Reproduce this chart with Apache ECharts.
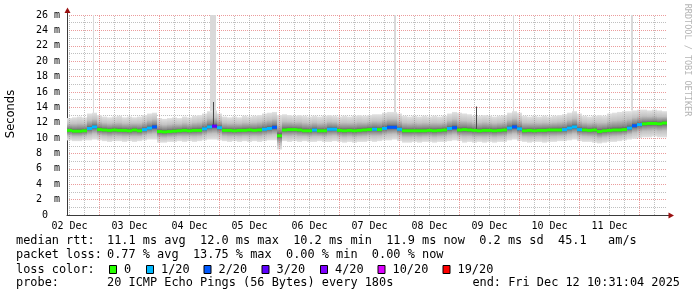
<!DOCTYPE html>
<html><head><meta charset="utf-8">
<script src="https://cdn.jsdelivr.net/npm/echarts@6/dist/echarts.min.js"></script>
<style>html,body{margin:0;padding:0;background:#fff}#c{width:697px;height:297px}</style>
</head><body><div id="c"></div>
<script>
// time axis: hours since 02 Dec 00:00, one sample every 2 hours
const startHour = 12;
const stepHours = 2;

// median RTT (ms)
const median = [
  11.0, 10.9, 10.9, 10.95,
  11.25, 11.45, 11.1,
  11.05, 11.0, 11.05, 11.0, 11.0, 10.95, 11.05, 10.95,
  11.1, 11.3, 11.45,
  10.85, 10.8, 10.85, 10.9, 10.95, 11.0, 10.95, 11.0, 11.0,
  11.2, 11.45, 11.55, 11.35,
  11.0, 11.0, 10.95, 11.0, 11.0, 11.05, 11.0, 11.05,
  11.15, 11.25, 11.4,
  10.3,
  11.05, 11.1, 11.1, 11.05, 10.95, 10.95,
  11.05, 10.95, 10.95, 11.15, 11.15, 11.0, 10.95, 11.0, 10.95, 11.0, 11.05, 11.1, 11.15, 11.1,
  11.25, 11.4, 11.4, 11.15,
  10.95, 10.95, 10.95, 10.95, 10.95, 11.0, 10.95, 11.0, 11.05,
  11.25, 11.35, 11.05,
  11.1, 11.05, 11.0, 10.95, 11.0, 11.0, 10.95, 11.0, 11.05,
  11.3, 11.45, 11.2,
  10.95, 11.0, 10.95, 11.0, 11.0, 11.05, 11.05, 11.05,
  11.1, 11.3, 11.45, 11.1,
  11.05, 11.0, 11.05, 10.85, 10.95, 11.0, 11.05, 11.05, 11.1,
  11.3, 11.6, 11.75,
  11.85, 11.9, 11.9, 11.85, 11.95
];

// lost pings out of 20
const loss = [
  0,0,0,0,
  1,1,0,
  0,0,0,0,0,0,0,0,
  1,1,2,
  0,0,0,0,0,0,0,0,0,
  1,1,3,1,
  0,0,0,0,0,0,0,0,
  1,1,2,
  0,
  0,0,0,0,0,0,
  1,0,0,1,1,0,0,0,0,0,0,0,1,0,
  1,2,2,1,
  0,0,0,0,0,0,0,0,0,
  1,2,0,
  0,0,0,0,0,0,0,0,0,
  1,2,1,
  0,0,0,0,0,0,0,0,
  1,1,1,1,
  0,0,0,0,0,0,0,0,0,
  1,2,1,
  0,0,0,0,0
];

// smoke extent (ms)
const smokeMin = [
  9.7, 9.6, 9.6, 9.7,
  9.7, 9.8, 9.7,
  9.6, 9.5, 9.6, 9.6, 9.5, 9.6, 9.5, 9.6,
  9.7, 9.8, 9.8,
  9.4, 9.4, 9.5, 9.5, 9.6, 9.5, 9.6, 9.5, 9.6,
  9.7, 9.8, 9.8, 9.7,
  9.6, 9.5, 9.6, 9.5, 9.6, 9.5, 9.6, 9.5,
  9.6, 9.7, 9.7,
  8.5,
  9.6, 9.5, 9.6, 9.5, 9.6, 9.5,
  9.5, 9.6, 9.5, 9.5, 9.6, 9.5, 9.4, 9.5, 9.4, 9.5, 9.5, 9.6, 9.5, 9.6,
  9.7, 9.7, 9.8, 9.6,
  9.4, 9.4, 9.5, 9.4, 9.5, 9.5, 9.4, 9.5, 9.5,
  9.6, 9.7, 9.6,
  9.4, 9.5, 9.4, 9.5, 9.4, 9.5, 9.4, 9.5, 9.5,
  9.7, 9.8, 9.6,
  9.5, 9.4, 9.5, 9.5, 9.4, 9.5, 9.5, 9.6,
  9.6, 9.7, 9.8, 9.6,
  9.5, 9.5, 9.4, 9.3, 9.4, 9.5, 9.5, 9.6, 9.7,
  9.8, 9.9, 10.0,
  10.1, 10.1, 10.2, 10.1, 10.1
];
const smokeMax = [
  12.6, 12.7, 12.8, 12.7,
  13.2, 13.3, 13.0,
  12.8, 12.7, 12.8, 12.9, 12.7, 12.8, 12.7, 12.8,
  13.0, 13.2, 13.3,
  12.6, 12.5, 12.6, 12.7, 12.6, 12.8, 12.7, 12.9, 13.0,
  13.2, 13.5, 13.6, 13.2,
  12.8, 12.7, 12.8, 12.7, 12.9, 12.8, 12.9, 13.0,
  13.2, 13.3, 13.4,
  13.0,
  13.1, 13.0, 12.9, 13.0, 12.9, 12.8,
  12.9, 12.8, 12.9, 13.0, 12.9, 12.8, 12.9, 12.8, 12.9, 13.0, 12.9, 13.0, 13.1, 13.1,
  13.3, 13.4, 13.4, 13.2,
  12.9, 12.8, 12.9, 12.8, 12.9, 12.8, 12.9, 12.8, 12.9,
  13.2, 13.4, 13.3,
  13.2, 13.1, 12.9, 12.9, 13.0, 12.9, 12.8, 12.9, 13.0,
  13.3, 13.5, 13.3,
  12.9, 12.8, 12.9, 12.8, 12.9, 12.8, 12.9, 13.0,
  13.1, 13.3, 13.5, 13.2,
  12.9, 12.8, 12.9, 13.0, 12.9, 13.2, 13.3, 13.4, 13.5,
  13.5, 13.6, 13.7,
  13.7, 13.6, 13.7, 13.6, 13.5
];

// single outlier pings reaching far above the smoke
const outlierHours = [21.4, 69.4, 142.2, 189.4, 213.4, 237.0];
const outlierFrom  = [13.2, 13.5, 13.3, 13.4, 13.4, 13.6];
const outlierTo    = [26, 26, 26, 26, 26, 26];
const outlierSpan  = [0.4, 2.4, 0.6, 0.4, 0.4, 0.6];
const darkSpikeHours = [69.6, 174.6];
const darkSpikeTo    = [14.7, 14.1];

const dayLabels = ['02 Dec','03 Dec','04 Dec','05 Dec','06 Dec','07 Dec','08 Dec','09 Dec','10 Dec','11 Dec'];
const dayLabelHours = [12, 36, 60, 84, 108, 132, 156, 180, 204, 228];

const lossLevels = [0, 1, 2, 3, 4, 10, 19];
const lossColors = ['#26ff00', '#00b8ff', '#0059ff', '#5e00ff', '#7e00ff', '#dd00ff', '#ff0000'];

const statsRows = [
  ['median rtt:', '11.1 ms avg  12.0 ms max  10.2 ms min  11.9 ms now  0.2 ms sd  45.1   am/s'],
  ['packet loss:', '0.77 % avg  13.75 % max  0.00 % min  0.00 % now'],
  ['loss color:', ''],
  ['probe:', '20 ICMP Echo Pings (56 Bytes) every 180s']
];
const endText = 'end: Fri Dec 12 10:31:04 2025';

function colorForLoss(n) {
  let c = lossColors[0];
  for (let k = 0; k < lossLevels.length; k++) if (n >= lossLevels[k]) c = lossColors[k];
  return c;
}

const hours = median.map((_, i) => startHour + i * stepHours);
const smokeData = median.map((m, i) => [hours[i], smokeMin[i], smokeMax[i], m]);
const medianData = median.map((m, i) => [hours[i], m, loss[i]]);
const outlierData = outlierHours.map((h, i) => [h, outlierFrom[i], outlierTo[i], outlierSpan[i]]);
const darkSpikeData = darkSpikeHours.map((h, i) => {
  const idx = Math.round((h - startHour) / stepHours);
  return [h, median[idx], darkSpikeTo[i], 0.4];
});

const MONO = 'DejaVu Sans Mono';
const upperGrad = {type:'linear', x:0, y:0, x2:0, y2:1, colorStops:[
  {offset:0, color:'#e2e2e2'}, {offset:0.45, color:'#c2c2c2'}, {offset:0.8, color:'#888888'}, {offset:1, color:'#505050'}]};
const lowerGrad = {type:'linear', x:0, y:0, x2:0, y2:1, colorStops:[
  {offset:0, color:'#505050'}, {offset:0.2, color:'#888888'}, {offset:0.55, color:'#c2c2c2'}, {offset:1, color:'#e2e2e2'}]};

// vertical grid (6h minor, day major)
const vGrid = [];
for (let h = 12; h <= 251; h += 6) {
  const major = h % 24 === 0;
  vGrid.push({xAxis: h, lineStyle: {color: major ? 'rgba(222,90,90,0.6)' : 'rgba(140,140,140,0.55)', type: [1, 1], width: 1}});
}

function spikeRender(fill) {
  return function (params, api) {
    const h = api.value(0);
    const a = api.coord([h, api.value(1)]);
    const b = api.coord([h, api.value(2)]);
    const w = Math.max(1, Math.round(api.size([api.value(3), 0])[0]));
    const x = Math.round(a[0] - w / 2);
    return {type:'rect', shape:{x: x, y: b[1], width: w, height: a[1] - b[1]}, style:{fill: fill}};
  };
}

const graphics = [];
graphics.push({type:'text', x:11, y:114, rotation: Math.PI/2,
  style:{text:'Seconds', font:'11.5px "DejaVu Sans"', fill:'#000', align:'center', verticalAlign:'middle'}});
graphics.push({type:'text', x:687, y:60, rotation: -Math.PI/2,
  style:{text:'RRDTOOL / TOBI OETIKER', font:'8.5px "DejaVu Sans Mono"', fill:'#b4b4b4', align:'center', verticalAlign:'middle'}});
// axis extensions and arrows
graphics.push({type:'line', shape:{x1:67.5, y1:10, x2:67.5, y2:15}, style:{stroke:'#3a3a3a', lineWidth:1}});
graphics.push({type:'line', shape:{x1:667, y1:215.5, x2:671, y2:215.5}, style:{stroke:'#3a3a3a', lineWidth:1}});
graphics.push({type:'polygon', shape:{points:[[67.5,7.5],[64.5,13],[70.5,13]]}, style:{fill:'#9a1010'}});
graphics.push({type:'polygon', shape:{points:[[674,215.5],[668.5,212.5],[668.5,218.5]]}, style:{fill:'#9a1010'}});

const rowY = [241, 255, 269.5, 283];
statsRows.forEach((r, i) => {
  graphics.push({type:'text', x:16, y:rowY[i], style:{text:r[0], font:'11.9px "DejaVu Sans Mono"', fill:'#000', verticalAlign:'middle'}});
  if (r[1]) graphics.push({type:'text', x:107, y:rowY[i], style:{text:r[1], font:'11.9px "DejaVu Sans Mono"', fill:'#000', verticalAlign:'middle'}});
});
graphics.push({type:'text', x:680, y:rowY[3], style:{text:endText, font:'11.9px "DejaVu Sans Mono"', fill:'#000', align:'right', verticalAlign:'middle'}});
const swatchX = [109, 146, 203.5, 261.5, 320, 377.5, 442.5];
lossLevels.forEach((lv, k) => {
  graphics.push({type:'rect', shape:{x:swatchX[k] + 0.5, y:265.5, width:7, height:8}, style:{fill:lossColors[k], stroke:'#000', lineWidth:1}});
  graphics.push({type:'text', x:swatchX[k] + 15, y:rowY[2], style:{text: lv === 0 ? '0' : lv + '/20', font:'11.9px "DejaVu Sans Mono"', fill:'#000', verticalAlign:'middle'}});
});

const chart = echarts.init(document.getElementById('c'), null, {renderer:'canvas'});
chart.setOption({
  animation: false,
  backgroundColor: '#fff',
  grid: {left:67, right:30, top:15, bottom:82, containLabel:false},
  xAxis: {
    type:'value', min:11, max:251,
    axisLine:{show:true, onZero:false, lineStyle:{color:'#3a3a3a', width:1}},
    axisTick:{show:false},
    splitLine:{show:false},
    axisLabel:{show:true, customValues: dayLabelHours, margin:6, color:'#000', fontFamily:MONO, fontSize:10,
      formatter: v => { const k = dayLabelHours.indexOf(v); return k >= 0 ? dayLabels[k] : ''; }}
  },
  yAxis: {
    type:'value', min:0, max:26, interval:2,
    axisLine:{show:true, lineStyle:{color:'#3a3a3a', width:1}},
    axisTick:{show:false},
    axisLabel:{align:'left', margin:31, color:'#000', fontFamily:MONO, fontSize:10,
      formatter: v => v === 0 ? ' 0' : (v < 10 ? v + '  m' : v + ' m')},
    splitLine:{show:true, lineStyle:{color:'rgba(222,90,90,0.6)', type:[1,1], width:1}},
    minorTick:{show:false, splitNumber:2},
    minorSplitLine:{show:true, lineStyle:{color:'rgba(140,140,140,0.55)', type:[1,1], width:1}}
  },
  series: [
    {type:'line', data:[], z:1, silent:true,
      markLine:{silent:true, symbol:['none','none'], label:{show:false}, animation:false, data: vGrid}},
    {type:'custom', z:2, silent:true, data: outlierData, renderItem: spikeRender('#d9d9d9'), clip:true},
    {type:'custom', z:3, silent:true, data: smokeData, clip:true,
      renderItem: function (params, api) {
        const h = api.value(0);
        const pLo = api.coord([h, api.value(1)]);
        const pHi = api.coord([h, api.value(2)]);
        const pMd = api.coord([h, api.value(3)]);
        const w = api.size([stepHours, 0])[0];
        const x = Math.round(pMd[0] - w / 2);
        const wr = Math.round(pMd[0] + w / 2) - x;
        return {type:'group', children:[
          {type:'rect', shape:{x:x, y:pHi[1], width:wr, height:pMd[1] - pHi[1]}, style:{fill:upperGrad}},
          {type:'rect', shape:{x:x, y:pMd[1], width:wr, height:pLo[1] - pMd[1]}, style:{fill:lowerGrad}}
        ]};
      }},
    {type:'custom', z:4, silent:true, data: darkSpikeData, renderItem: spikeRender('#4a4a4a'), clip:true},
    {type:'scatter', z:5, silent:true, data: medianData, symbol:'rect', symbolSize:[5,3],
      itemStyle:{color: p => colorForLoss(p.data[2]), opacity:1}}
  ],
  graphic: graphics
});
</script></body></html>
